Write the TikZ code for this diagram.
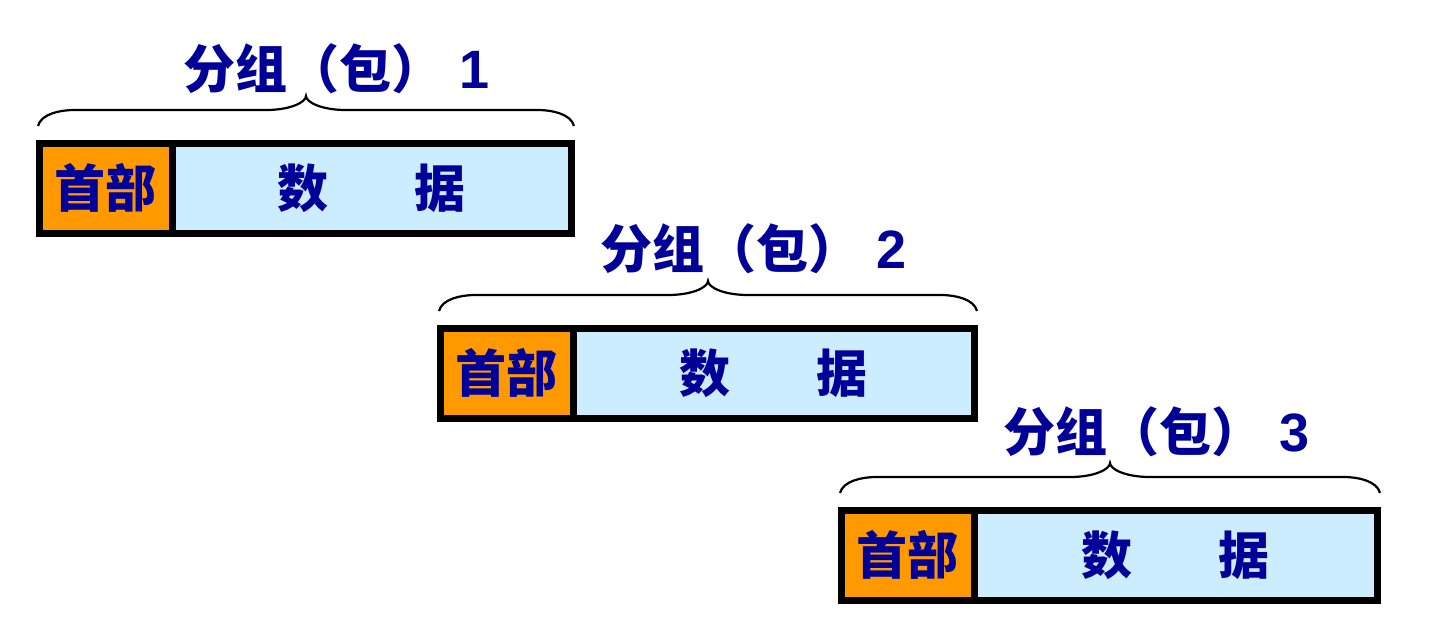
\documentclass[tikz,border=0pt]{standalone}
\usepackage{fontspec}
\usetikzlibrary{calc}
\newfontfamily\cjk{Noto Sans CJK SC}
\newfontfamily\lat{Liberation Sans}
\definecolor{txtblue}{RGB}{0,0,153}
\definecolor{hdrorange}{RGB}{255,153,0}
\definecolor{datablue}{RGB}{204,236,255}
\tikzset{
  box/.style={draw=black, line width=3.5pt, minimum height=45pt, inner sep=0pt, outer sep=0pt,
    font=\cjk\bfseries\fontsize{25.5}{25.5}\selectfont, text=txtblue},
  hdr/.style={box, fill=hdrorange, minimum width=66.5pt},
  dat/.style={box, fill=datablue},
  lbl/.style={font=\cjk\bfseries\fontsize{26}{26}\selectfont, text=txtblue, inner sep=0pt, anchor=base west},
  brc/.style={draw=black, line width=1.1pt}
}
\begin{document}
\begin{tikzpicture}[x=0.5pt,y=-0.5pt]
\useasboundingbox (0,0) rectangle (1438,637);
\foreach \i/\x/\y/\w/\lx/\ly in {1/39/143/199.5pt/183/88, 2/440/328/200.5pt/600/268, 3/841/510/201.5pt/1003/451}{
  \node[hdr, anchor=north west] (h\i) at (\x,\y) {首部};
  \node[dat, minimum width=\w, anchor=north west] (d\i) at (h\i.north east) {数\hspace{1.7em}据};
  \node[lbl] (l\i) at (\lx,\ly) {分组（包）\hspace{0.3em}{\lat\bfseries\fontsize{27}{27}\selectfont \i}};
  % brace
  \coordinate (bl\i) at ([shift={(-1,-17)}]h\i.north west);
  \coordinate (br\i) at ([shift={(3,-17)}]d\i.north east);
  \coordinate (bt\i) at ($(bl\i)!0.5!(br\i)+(0,-30)$);
  \draw[brc] (bl\i) .. controls +(3,-12) and +(-14,0) .. ++(36,-16)
     -- ($(bt\i)+(-40,14)$) .. controls +(25,0) and +(0,6) .. (bt\i)
     .. controls +(0,6) and +(-25,0) .. ($(bt\i)+(40,14)$)
     -- ($(br\i)+(-36,-16)$) .. controls +(14,0) and +(-3,-12) .. (br\i);
}
\end{tikzpicture}
\end{document}
